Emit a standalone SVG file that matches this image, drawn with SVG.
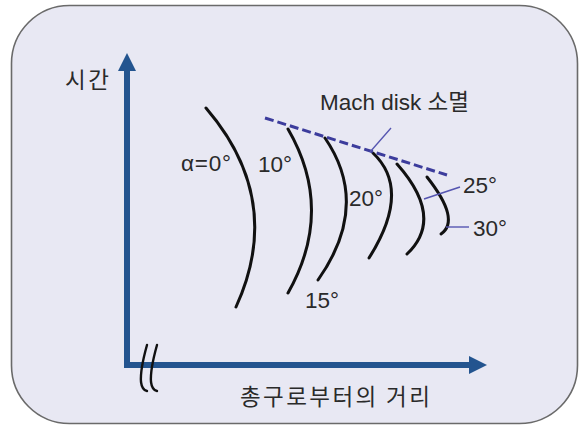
<svg xmlns="http://www.w3.org/2000/svg" width="583" height="425" viewBox="0 0 583 425">
<style>
.lbl{font-family:"Liberation Sans","Noto Sans CJK KR",sans-serif;font-size:22.5px;fill:#2a2a2a}
.kr{font-family:"Noto Sans CJK KR","Noto Sans",sans-serif;font-size:22.5px;fill:#2a2a2a}
.arc{fill:none;stroke:#111;stroke-width:3;stroke-linecap:round}
.axis{fill:none;stroke:#23548f;stroke-width:6}
.head{fill:#23548f}
.lead{fill:none;stroke:#5555b0;stroke-width:1.4}
.brk{fill:none;stroke:#111;stroke-width:2.4;stroke-linecap:round}
</style>
<rect x="0" y="0" width="583" height="425" fill="#ffffff"/>
<rect id="frame" x="11.5" y="5.5" width="566" height="418" rx="58" ry="58" fill="#e8e8f3" stroke="#6a6a6a" stroke-width="1.6"/>
<g id="axes">
<path class="axis" d="M127,70 V365 H470" stroke-linejoin="miter"/>
<polygon class="head" points="127,53 118,71 136,71"/>
<polygon class="head" points="487,365 469,356 469,374"/>
<path class="brk" d="M147,345 Q140,370 141,382 Q142,390 147,391"/>
<path class="brk" d="M157,345 Q150,370 151,382 Q152,390 157,391"/>
</g>
<g id="arcs">
<path id="arc0" class="arc" d="M206,108 Q285,200 236,307"/>
<path id="arc10" class="arc" d="M288,129 Q335,210 288,293"/>
<path id="arc15" class="arc" d="M325,138 Q371,205 318,280"/>
<path id="arc20" class="arc" d="M373,153 Q412,190 369,258"/>
<path id="arc25" class="arc" d="M397,164 Q445,218 407,254"/>
<path id="arc30" class="arc" d="M427,177 Q461,220 441,234"/>
</g>
<g id="connectors">
<line x1="265" y1="118" x2="447" y2="175" stroke="#3c3c9c" stroke-width="3" stroke-dasharray="9,4"/>
<line class="lead" x1="391" y1="128" x2="370" y2="152"/>
<line class="lead" x1="460" y1="187" x2="424" y2="199"/>
<line class="lead" x1="469" y1="227" x2="446" y2="227"/>
</g>
<g id="labels">
<text class="kr" x="65" y="88" letter-spacing="2.5">시간</text>
<text class="kr" x="240" y="405" letter-spacing="2.4">총구로부터의 거리</text>
<text class="lbl" x="320" y="110" font-size="20.5">Mach disk <tspan font-family="Noto Sans CJK KR, sans-serif">소멸</tspan></text>
<text class="lbl" x="181" y="171" letter-spacing="0.8">α=0°</text>
<text class="lbl" x="258" y="172">10°</text>
<text class="lbl" x="305" y="308">15°</text>
<text class="lbl" x="349" y="206">20°</text>
<text class="lbl" x="463" y="193">25°</text>
<text class="lbl" x="473" y="236">30°</text>
</g>
</svg>
